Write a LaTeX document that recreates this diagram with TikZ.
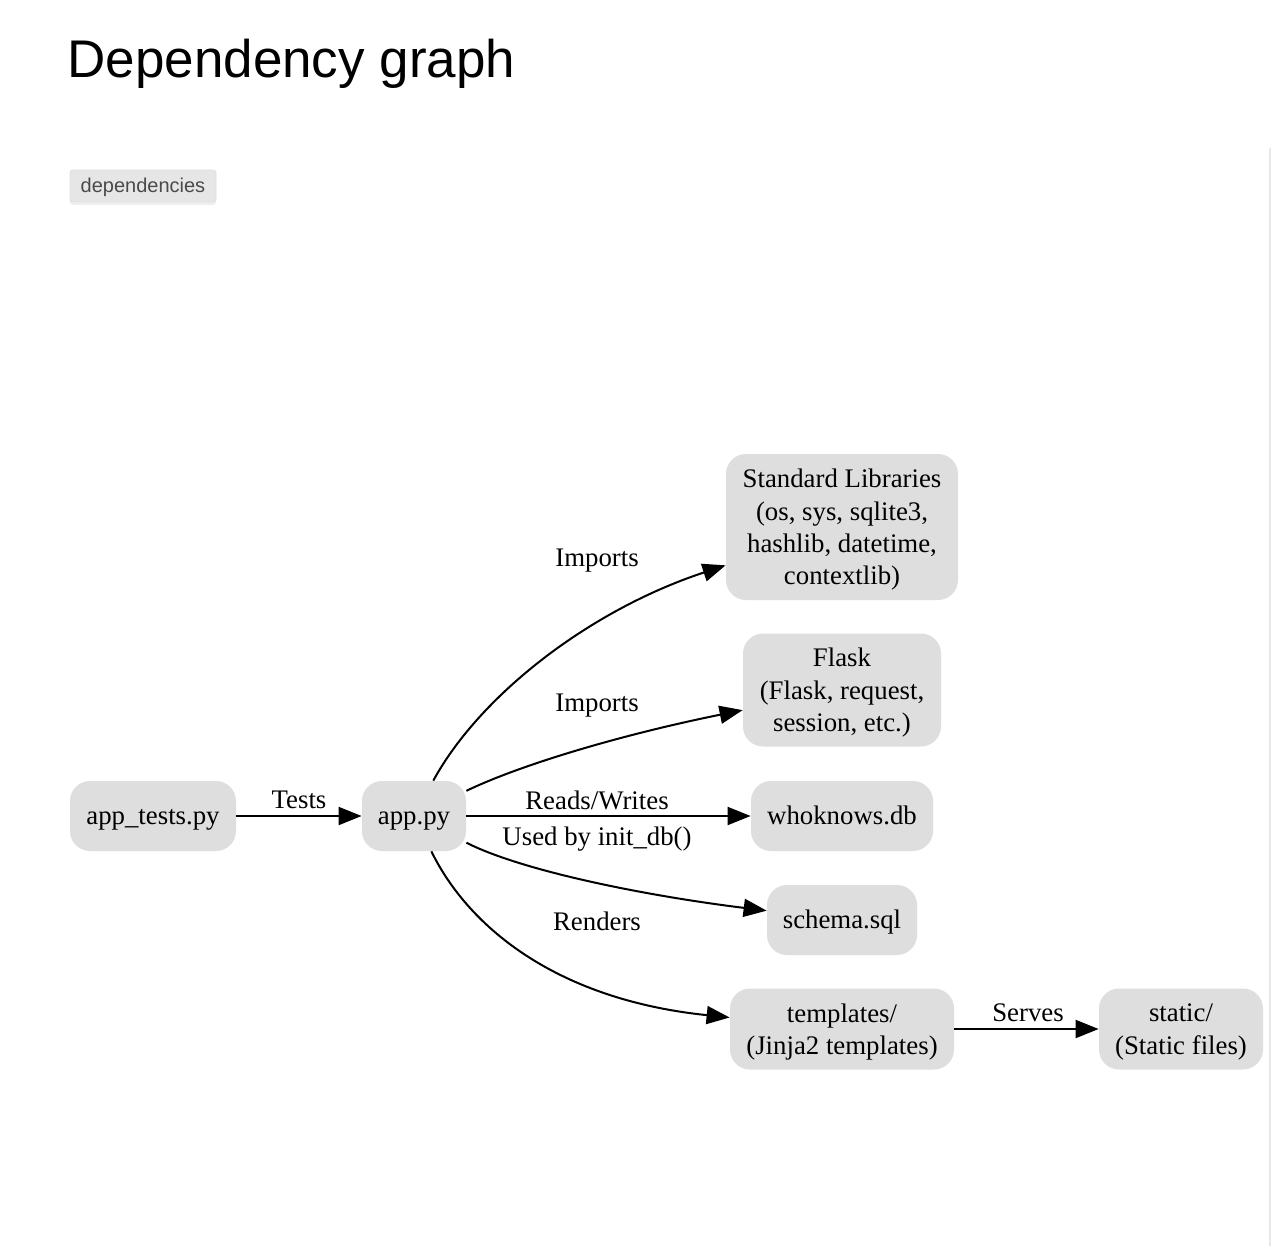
\documentclass[tikz,border=0pt]{standalone}
\usepackage{fontspec}
\setmainfont{Liberation Serif}
\newfontfamily\titlefont{Liberation Sans}
\usetikzlibrary{arrows.meta,positioning,shadows}

\definecolor{boxgray}{HTML}{DEDEDE}
\definecolor{btngray}{HTML}{E6E6E6}
\definecolor{btntext}{HTML}{4A4A4A}
\definecolor{edgegray}{HTML}{E8E8E8}

\begin{document}
\begin{tikzpicture}[x=0.5pt,y=-0.5pt,
  box/.style={fill=boxgray,rounded corners=10pt,inner sep=0pt,align=center,
    font=\fontsize{13.4}{16.2}\selectfont},
  one/.style={text height=0.9em,text depth=0.05em},
  multi/.style={text depth=0pt},
  lbl/.style={inner sep=0pt,font=\fontsize{13.4}{16.2}\selectfont},
  dep/.style={line width=1pt,-{Triangle[length=11.5pt,width=9pt]}}]
\useasboundingbox (0,0) rectangle (1272,1246);
\fill[white] (0,0) rectangle (1272,1246);
\node[anchor=base west,inner sep=0pt,font=\titlefont\fontsize{26.5}{30}\selectfont] (title) at (67,78) {Dependency graph};
\node[fill=btngray,draw=black!12,line width=0.4pt,rounded corners=1.5pt,minimum width=73pt,minimum height=16pt,inner sep=0pt,
  text height=0.8em,text depth=0.12em,
  drop shadow={opacity=0.12,shadow xshift=0pt,shadow yshift=-1.5pt},
  text=btntext,font=\titlefont\fontsize{10}{12}\selectfont] (btn) at (143,186) {dependencies};
\coordinate (rtop) at (1270,148);
\coordinate (rbot) at (1270,1246);
\draw[edgegray,line width=1pt] (rtop) -- (rbot);

\node[box,one,minimum width=83pt,minimum height=35pt] (tests) at (153,816) {app\_tests.py};
\node[box,one,minimum width=52pt,minimum height=35pt] (app) at (414,816) {app.py};
\node[box,multi,minimum width=116pt,minimum height=73pt] (stdlib) at (842,527) {Standard Libraries\\(os, sys, sqlite3,\\hashlib, datetime,\\contextlib)};
\node[box,multi,minimum width=99pt,minimum height=56.5pt] (flask) at (842,690) {Flask\\(Flask, request,\\session, etc.)};
\node[box,one,minimum width=91pt,minimum height=35pt] (db) at (842,816) {whoknows.db};
\node[box,one,minimum width=75pt,minimum height=35pt] (schema) at (842,920) {schema.sql};
\node[box,multi,minimum width=112pt,minimum height=40.5pt] (tmpl) at (842,1029) {templates/\\(Jinja2 templates)};
\node[box,multi,minimum width=82pt,minimum height=40.5pt] (static) at (1181,1029) {static/\\(Static files)};

\node[lbl] (ltests) at (299,800) {Tests};
\node[lbl] (lstd) at (597,561) {Imports};
\node[lbl] (lflask) at (597,706) {Imports};
\node[lbl] (ldb) at (597,800) {Reads/Writes};
\node[lbl] (lschema) at (597,839) {Used by init\_db()};
\node[lbl] (ltmpl) at (597,921) {Renders};
\node[lbl] (lstatic) at (1028,1013) {Serves};

\draw[dep] (tests) -- (app);
\draw[dep] (app) .. controls (480,695) and (590,610) .. (stdlib);
\draw[dep] (app) .. controls (520,765) and (620,735) .. (flask);
\draw[dep] (app) -- (db);
\draw[dep] (app) .. controls (520,870) and (640,895) .. (schema);
\draw[dep] (app) .. controls (470,930) and (560,1000) .. (tmpl);
\draw[dep] (tmpl) -- (static);
\end{tikzpicture}
\end{document}
